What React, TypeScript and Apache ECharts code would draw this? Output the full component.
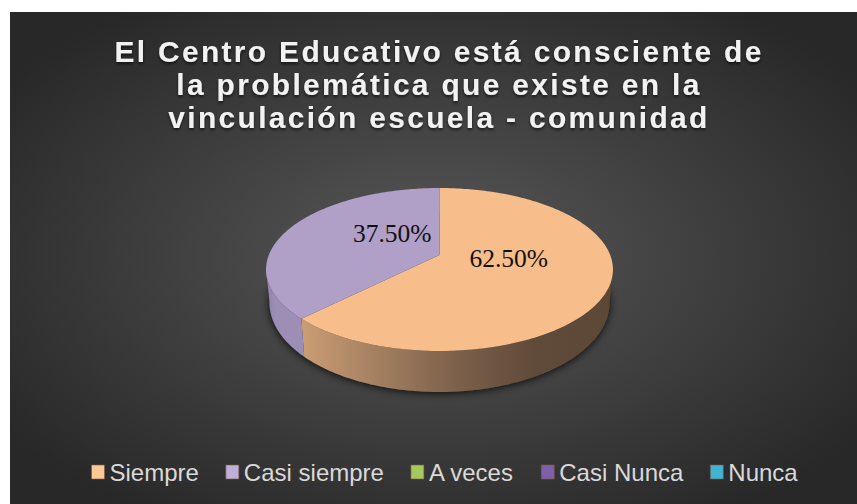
import React, { useEffect, useRef } from "react";
import * as echarts from "echarts";

const titleLines = [
  "El Centro Educativo está consciente de",
  "la problemática que existe en la",
  "vinculación escuela - comunidad",
];
const categories = ["Siempre", "Casi siempre", "A veces", "Casi Nunca", "Nunca"];
const seriesValues = [62.5, 37.5, 0, 0, 0];
const legendColors = ["#fcc797", "#bfaed8", "#a3c95f", "#7f60a8", "#3fb4d4"];
const faceColors = ["#f7bd8b", "#b09fc7", "#9bbb59", "#8064a2", "#4bacc6"];
const wallStops: string[][] = [
  ["#cb9d74", "#a37f60", "#7c604a", "#604a39", "#5d4735"],
  ["#8e80a6", "#9d8eb6", "#9d8eb6", "#9d8eb6", "#9d8eb6"],
  ["#6f8640", "#6f8640", "#6f8640", "#6f8640", "#6f8640"],
  ["#5c4875", "#5c4875", "#5c4875", "#5c4875", "#5c4875"],
  ["#367b8e", "#367b8e", "#367b8e", "#367b8e", "#367b8e"],
];
const labelAngleShift = [-17, 21.7, 0, 0, 0];

// projective view of the pie's circular top
const CX = 439.5, CY = 255, AX = 170.7, CYS = 78.9, K = 0.178;
const LOW_CY = 286.8, LOW_SX = 0.98, LOW_SY = 1.096;
const rad = (d: number) => (d * Math.PI) / 180;
function proj(theta: number, r = 1): [number, number] {
  const u = r * Math.sin(rad(theta));
  const v = -r * Math.cos(rad(theta));
  const w = 1 - K * v;
  return [(AX * u) / w, (CYS * v) / w];
}
const top = (t: number, r = 1): number[] => {
  const p = proj(t, r);
  return [CX + p[0], CY + p[1]];
};
const low = (t: number): number[] => {
  const p = proj(t);
  return [CX + LOW_SX * p[0], LOW_CY + LOW_SY * p[1]];
};
function arcPts(a: number, b: number, f: (t: number) => number[]) {
  const n = Math.max(2, Math.ceil(Math.abs(b - a)));
  const out: number[][] = [];
  for (let i = 0; i <= n; i++) out.push(f(a + ((b - a) * i) / n));
  return out;
}

const total = seriesValues.reduce((a, b) => a + b, 0);
const WALL_A = 100, WALL_B = 260;

function sliceRenderer(index: number) {
  return () => {
    const value = seriesValues[index];
    if (!value) return null as any;
    const start = (seriesValues.slice(0, index).reduce((a, b) => a + b, 0) / total) * 360;
    const end = start + (value / total) * 360;
    const children: any[] = [];
    const a = Math.max(start, WALL_A), b = Math.min(end, WALL_B);
    if (b > a) {
      const pts = [...arcPts(a, b, top), ...arcPts(b, a, low)];
      const stops = wallStops[index];
      children.push({
        type: "polygon",
        shape: { points: pts },
        style: {
          fill: new echarts.graphic.LinearGradient(0, 0, 1, 0,
            stops.map((color, i) => ({ offset: i / (stops.length - 1), color }))),
        },
      });
    }
    const face = [[CX, CY], ...arcPts(start, end, top)];
    children.push({ type: "polygon", shape: { points: face }, style: { fill: faceColors[index] } });
    const mid = (start + end) / 2 + labelAngleShift[index];
    const lp = top(mid, 0.405);
    children.push({
      type: "text",
      z2: 10,
      style: {
        text: value.toFixed(2) + "%",
        x: lp[0],
        y: lp[1],
        align: "center",
        verticalAlign: "middle",
        fontFamily: "'Liberation Serif', serif",
        fontSize: 25.5,
        fill: "#111111",
      },
    });
    return { type: "group", children };
  };
}

export default function App() {
  const ref = useRef<HTMLDivElement>(null);
  useEffect(() => {
    document.body.style.margin = "0";
    document.body.style.background = "#ffffff";
    const el = ref.current!;
    const chart = echarts.init(el, undefined, { renderer: "svg" });
    const shadowSeries: any = {
      type: "custom",
      name: "sombra",
      coordinateSystem: "none",
      silent: true,
      data: [[0]],
      renderItem: () => ({
        type: "polygon",
        shape: { points: arcPts(0, 360, low) },
        style: {
          fill: "#3a3a3a",
          shadowBlur: 9,
          shadowColor: "rgba(0,0,0,0.85)",
          shadowOffsetY: 1,
        },
      }),
    };
    chart.setOption({
      animation: false,
      backgroundColor: "#ffffff",
      graphic: [
        {
          type: "rect",
          z: -10,
          silent: true,
          shape: { x: 10, y: 12, width: 847, height: 492 },
          style: {
            fill: new echarts.graphic.RadialGradient(0.5, 0.5, 0.62, [
              { offset: 0, color: "#585858" },
              { offset: 1, color: "#282828" },
            ]),
          },
        },
      ],
      title: {
        text: titleLines.join("\n"),
        left: 434,
        top: 30,
        textAlign: "center",
        textStyle: {
          fontFamily: "'Liberation Sans', Arial, sans-serif",
          fontWeight: "bold",
          fontSize: 30,
          lineHeight: 33,
          color: "#f2f2f2",
          textShadowColor: "rgba(0,0,0,0.6)",
          textShadowBlur: 3,
          textShadowOffsetY: 2,
        },
      },
      legend: {
        left: 91,
        top: 460,
        padding: 0,
        selectedMode: false,
        itemWidth: 13,
        itemHeight: 14,
        itemGap: 26.5,
        icon: "rect",
        textStyle: {
          fontFamily: "'Liberation Sans', Arial, sans-serif",
          fontSize: 24,
          color: "#d9d9d9",
        },
        data: categories.map((name, i) => ({
          name,
          icon: "rect",
          itemStyle: { color: legendColors[i], borderColor: "rgba(120,90,60,0.6)", borderWidth: 1 },
        })),
      },
      series: [
        shadowSeries,
        ...categories.map((name, i) => ({
          type: "custom",
          name,
          coordinateSystem: "none",
          silent: true,
          itemStyle: { color: legendColors[i] },
          data: [[seriesValues[i]]],
          renderItem: sliceRenderer(i),
        })),
      ],
    });
    el.querySelectorAll("text").forEach((t) => {
      const s = t.textContent || "";
      if (titleLines.includes(s)) (t as any).style.letterSpacing = "2.3px";
    });
    return () => chart.dispose();
  }, []);
  return <div ref={ref} style={{ width: 857, height: 504 }} />;
}
